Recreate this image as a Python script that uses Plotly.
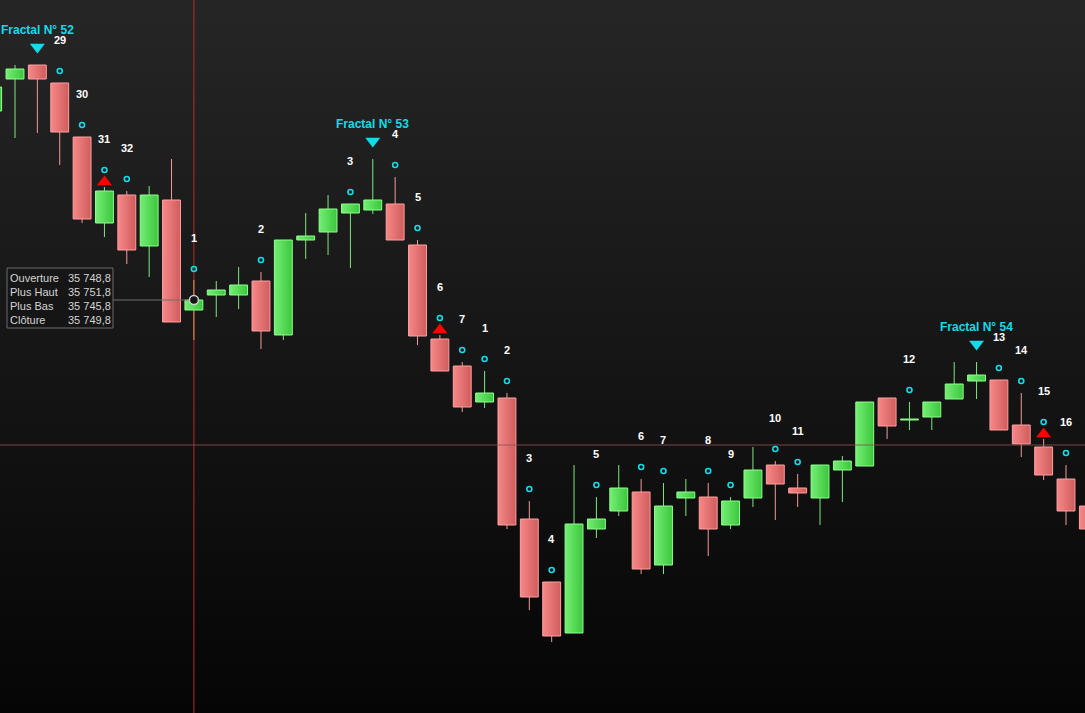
import plotly.graph_objects as go

# ---------------- data ----------------
opens = [35768.7, 35771.9, 35773.3, 35771.5, 35766.1, 35757.5, 35760.3, 35755.2, 35759.8, 35748.8,
         35750.3, 35750.3, 35751.7, 35746.3, 35755.8, 35756.6, 35758.5, 35758.8, 35759.4, 35755.3,
         35745.9, 35743.2, 35739.6, 35740.0, 35727.9, 35721.6, 35716.5, 35726.9, 35728.7, 35730.6,
         35723.3, 35730.0, 35730.1, 35727.3, 35730.0, 35733.3, 35731.0, 35730.0, 35732.8, 35733.2,
         35740.0, 35737.8, 35738.1, 35739.9, 35741.7, 35741.8, 35737.3, 35735.1, 35731.9, 35729.2]
highs = [35771.3, 35773.3, 35773.3, 35771.5, 35766.1, 35761.1, 35760.7, 35761.2, 35763.9, 35751.8,
         35751.7, 35753.1, 35752.6, 35755.8, 35758.5, 35760.3, 35759.4, 35763.9, 35762.1, 35755.8,
         35746.3, 35743.6, 35742.7, 35740.5, 35729.7, 35721.6, 35733.3, 35730.1, 35733.3, 35731.9,
         35731.5, 35731.9, 35731.5, 35730.1, 35735.1, 35733.7, 35732.4, 35733.3, 35734.2, 35739.6,
         35740.0, 35739.6, 35739.6, 35743.6, 35743.6, 35741.8, 35740.5, 35735.9, 35733.3, 35729.8]
lows = [35768.5, 35766.0, 35766.5, 35763.3, 35757.5, 35756.1, 35753.4, 35752.1, 35747.6, 35745.8,
        35748.1, 35748.9, 35744.9, 35745.8, 35753.9, 35754.3, 35753.0, 35758.4, 35755.8, 35745.3,
        35742.7, 35738.6, 35739.0, 35726.9, 35718.8, 35715.6, 35716.5, 35726.0, 35728.2, 35722.4,
        35722.4, 35728.2, 35724.2, 35726.9, 35729.1, 35727.8, 35729.1, 35727.3, 35729.6, 35733.2,
        35735.9, 35736.8, 35736.8, 35739.9, 35739.9, 35736.8, 35734.1, 35731.8, 35727.3, 35726.3]
closes = [35771.1, 35772.9, 35771.9, 35766.6, 35757.9, 35760.7, 35754.8, 35760.3, 35747.6, 35749.8,
          35750.8, 35751.3, 35746.7, 35755.8, 35756.2, 35758.9, 35759.4, 35759.8, 35755.8, 35746.2,
          35742.7, 35739.1, 35740.5, 35727.3, 35720.1, 35716.2, 35727.4, 35727.9, 35731.0, 35722.9,
          35729.2, 35730.6, 35726.9, 35729.7, 35732.8, 35731.4, 35730.5, 35733.3, 35733.7, 35739.6,
          35737.2, 35737.9, 35739.6, 35741.4, 35742.3, 35736.8, 35735.4, 35732.3, 35728.7, 35726.9]

# counter dots and their labels
count_idx = [3, 4, 5, 6, 9, 12, 16, 18, 19, 20, 21, 22, 23, 24, 25, 27, 29, 30, 32, 33, 35, 36, 41, 45, 46, 47, 48]
count_price = [35772.7, 35767.3, 35762.8, 35761.9, 35752.9, 35753.8, 35760.6, 35763.3, 35757.0, 35748.0,
               35744.8, 35743.9, 35741.7, 35730.9, 35722.8, 35731.3, 35733.1, 35732.7, 35732.7, 35731.3,
               35734.9, 35733.6, 35740.8, 35743.0, 35741.7, 35737.6, 35734.5]
count_labels = ["29", "30", "31", "32", "1", "2", "3", "4", "5", "6", "7", "1", "2", "3", "4", "5", "6",
                "7", "8", "9", "10", "11", "12", "13", "14", "15", "16"]

# fractals (cyan down triangles)
fractal_idx = [2, 17, 44]
fractal_price = [35775.1, 35765.7, 35745.4]
fractal_labels = ["Fractal N° 52", "Fractal N° 53", "Fractal N° 54"]

# red up arrows
arrow_idx = [5, 20, 47]
arrow_price = [35761.6, 35746.8, 35736.4]

last_price = 35735.3
cursor_idx = 9
cursor_price = 35749.8
tooltip_names = ["Ouverture", "Plus Haut", "Plus Bas", "Clôture"]

# ---------------- styling ----------------
W, H = 1085, 713
X_RANGE = [0.329, 48.85]
Y_RANGE = [35708.5, 35779.8]
HALF = 0.4
FONT = "Liberation Sans, Arial, sans-serif"

UP_GRAD = [[0, "#74ee74"], [1, "#3cc63c"]]
UP_EDGE = "#8cff8c"
UP_WICK = "#7ee67e"
DN_GRAD = [[0, "#f78888"], [1, "#d05c5c"]]
DN_EDGE = "#ffa0a0"
DN_WICK = "#f39a9a"
CYAN = "#10dcea"

fig = go.Figure()

# background gradient
fig.add_trace(go.Scatter(
    x=[X_RANGE[0] - 1, X_RANGE[1] + 1, X_RANGE[1] + 1, X_RANGE[0] - 1, X_RANGE[0] - 1],
    y=[Y_RANGE[0] - 5, Y_RANGE[0] - 5, Y_RANGE[1] + 5, Y_RANGE[1] + 5, Y_RANGE[0] - 5],
    fill="toself", mode="lines", line=dict(width=0),
    fillgradient=dict(type="vertical", colorscale=[[0, "#030303"], [1, "#282828"]]),
    hoverinfo="skip", showlegend=False))

# wicks
for up in (True, False):
    wx, wy = [], []
    for i in range(len(opens)):
        if (closes[i] > opens[i]) == up and i != cursor_idx:
            wx += [i, i, None]
            wy += [lows[i], highs[i], None]
    fig.add_trace(go.Scatter(x=wx, y=wy, mode="lines",
                             line=dict(color=UP_WICK if up else DN_WICK, width=1),
                             hoverinfo="skip", showlegend=False))

# vertical cursor line
fig.add_trace(go.Scatter(x=[cursor_idx, cursor_idx], y=[Y_RANGE[0] - 5, Y_RANGE[1] + 5], mode="lines",
                         line=dict(color="#b82a2a", width=1), hoverinfo="skip", showlegend=False))
# cursor candle wick (highlighted)
fig.add_trace(go.Scatter(x=[cursor_idx, cursor_idx], y=[lows[cursor_idx], highs[cursor_idx]], mode="lines",
                         line=dict(color="#d49a58", width=1), hoverinfo="skip", showlegend=False))

# bodies
for i in range(len(opens)):
    up = closes[i] > opens[i]
    lo, hi = min(opens[i], closes[i]), max(opens[i], closes[i])
    fig.add_trace(go.Scatter(
        x=[i - HALF, i + HALF, i + HALF, i - HALF, i - HALF],
        y=[lo, lo, hi, hi, lo],
        fill="toself", mode="lines",
        line=dict(color=UP_EDGE if up else DN_EDGE, width=1),
        fillgradient=dict(type="horizontal", colorscale=UP_GRAD if up else DN_GRAD),
        hoverinfo="skip", showlegend=False))

# last price line
fig.add_trace(go.Scatter(x=[X_RANGE[0] - 1, X_RANGE[1] + 1], y=[last_price, last_price], mode="lines",
                         line=dict(color="rgba(140,80,80,0.85)", width=1), hoverinfo="skip", showlegend=False))

# counter dots
fig.add_trace(go.Scatter(x=count_idx, y=count_price, mode="markers",
                         marker=dict(symbol="circle-open", size=5, color=CYAN, line=dict(width=1.6, color=CYAN)),
                         hoverinfo="skip", showlegend=False))

# fractal triangles
fig.add_trace(go.Scatter(x=fractal_idx, y=fractal_price, mode="markers",
                         marker=dict(symbol="triangle-down", size=13, color=CYAN, line=dict(width=0)),
                         hoverinfo="skip", showlegend=False))
# red arrows
fig.add_trace(go.Scatter(x=arrow_idx, y=arrow_price, mode="markers",
                         marker=dict(symbol="triangle-up", size=13, color="#ff0000", line=dict(width=0)),
                         hoverinfo="skip", showlegend=False))

# tooltip connector and cursor circle
x_box_edge = X_RANGE[0] + 113 / W * (X_RANGE[1] - X_RANGE[0])
fig.add_trace(go.Scatter(x=[x_box_edge, cursor_idx], y=[cursor_price, cursor_price], mode="lines",
                         line=dict(color="#6e6e6e", width=1), hoverinfo="skip", showlegend=False))
fig.add_trace(go.Scatter(x=[cursor_idx], y=[cursor_price], mode="markers",
                         marker=dict(symbol="circle", size=9, color="#151515", line=dict(width=1.5, color="#d0d0d0")),
                         hoverinfo="skip", showlegend=False))

annotations = []
for xi, yp, lab in zip(count_idx, count_price, count_labels):
    annotations.append(dict(x=xi, y=yp, text=f"<b>{lab}</b>", showarrow=False, yshift=31,
                            font=dict(family=FONT, size=11, color="#ffffff")))
for xi, yp, lab in zip(fractal_idx, fractal_price, fractal_labels):
    annotations.append(dict(x=xi, y=yp, text=f"<b>{lab}</b>", showarrow=False, yshift=17,
                            font=dict(family=FONT, size=12, color=CYAN)))


def fr(v):
    return f"{v:,.1f}".replace(",", " ").replace(".", ",")


tip_vals = [opens[cursor_idx], highs[cursor_idx], lows[cursor_idx], closes[cursor_idx]]
row_px = [278, 292, 306, 320]
for name, val, ry in zip(tooltip_names, tip_vals, row_px):
    annotations.append(dict(xref="paper", yref="paper", x=8 / W, y=1 - ry / H, text=name, showarrow=False,
                            xanchor="left", yanchor="middle", font=dict(family=FONT, size=11, color="#d4d4d4")))
    annotations.append(dict(xref="paper", yref="paper", x=113 / W, y=1 - ry / H, text=fr(val), showarrow=False,
                            xanchor="right", yanchor="middle", font=dict(family=FONT, size=11, color="#d4d4d4")))

shapes = [dict(type="rect", xref="paper", yref="paper", x0=7 / W, x1=113 / W, y0=1 - 328 / H, y1=1 - 268 / H,
               fillcolor="rgba(22,22,22,0.92)", line=dict(color="#6a6a6a", width=1), layer="above")]

fig.update_layout(
    width=W, height=H,
    margin=dict(l=0, r=0, t=0, b=0),
    paper_bgcolor="#111111", plot_bgcolor="#111111",
    xaxis=dict(range=X_RANGE, visible=False, fixedrange=True),
    yaxis=dict(range=Y_RANGE, visible=False, fixedrange=True),
    showlegend=False,
    annotations=annotations,
    shapes=shapes,
    hovermode=False,
)

fig.write_html("out.html", config={"displayModeBar": False},
               post_script="document.body.style.margin='0px';document.body.style.overflow='hidden';")
